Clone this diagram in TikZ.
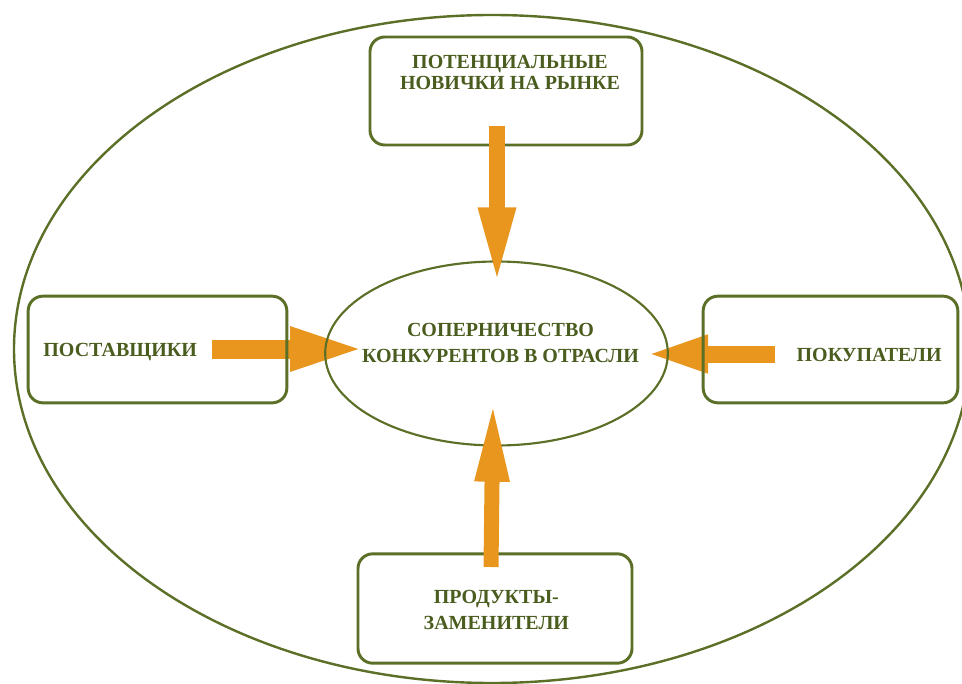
\documentclass[tikz,border=0pt]{standalone}
\usepackage{fontspec}
\setmainfont{Liberation Serif}
\usetikzlibrary{arrows.meta}
\usetikzlibrary{shapes.geometric}
\definecolor{lineolive}{HTML}{5B6F27}
\definecolor{textolive}{HTML}{4A5C1E}
\definecolor{forceorange}{HTML}{E8961E}
\tikzset{x=0.75pt, y=-0.75pt, % pixel grid of the picture
  every node/.style={align=center},
  forcebox/.style={   % boxes of the five forces
    draw=lineolive, line width=2.2pt, rounded corners=11pt},
  forcetext/.style={
    text=textolive, inner sep=0pt,
    font=\bfseries\fontsize{15}{18}\selectfont},
  forcearrow/.style={ % thick orange arrows
    draw=forceorange, line cap=butt}}

\begin{document}
\begin{tikzpicture}
  \useasboundingbox (0,0) rectangle (962,684);

  \node [ellipse, draw=lineolive, line width=1.8pt, minimum width=717pt, minimum height=501pt] (qmarket) at (492,349) {};

  % side arrows lie under the boxes
  \coordinate (qsuppA) at (212,349);
  \coordinate (qsuppB) at (368,349);
  \coordinate (qbuyA) at (775,354);
  \coordinate (qbuyB) at (644,354);
  \draw [forcearrow, line width=14.25pt, -{Triangle[length=58.5pt, width=29pt]}] (qsuppA) -- (qsuppB);
  \draw [forcearrow, line width=12.75pt, -{Triangle[length=48pt, width=25pt]}] (qbuyA) -- (qbuyB);

  \node [ellipse, draw=lineolive, line width=1.6pt, minimum width=257pt, minimum height=138pt] (qrival) at (496.5,353.5) {};
  \node [forcetext, font=\bfseries\fontsize{15}{19}\selectfont] (qrivalT) at ([xshift=3pt, yshift=8pt]qrival.center) {СОПЕРНИЧЕСТВО\\КОНКУРЕНТОВ В ОТРАСЛИ};

  \node [forcebox, minimum width=204pt, minimum height=81pt] (qnew) at (506,91) {};
  \node [forcetext, font=\bfseries\fontsize{15}{16}\selectfont] (qnewT) at ([xshift=3pt, yshift=14pt]qnew.center) {ПОТЕНЦИАЛЬНЫЕ\\НОВИЧКИ НА РЫНКЕ};

  \node [forcebox, minimum width=194pt, minimum height=80pt] (qsupp) at (157.5,349.5) {};
  \node [forcetext] (qsuppT) at ([xshift=-28pt, yshift=-2pt]qsupp.center) {ПОСТАВЩИКИ};

  \node [forcebox, minimum width=191pt, minimum height=80pt] (qbuy) at (830.5,349.5) {};
  \node [forcetext] (qbuyT) at ([xshift=29pt, yshift=-4pt]qbuy.center) {ПОКУПАТЕЛИ};

  \node [forcebox, minimum width=205.5pt, minimum height=82pt] (qsubst) at (495,608.5) {};
  \node [forcetext, font=\bfseries\fontsize{15}{19}\selectfont] (qsubstT) at ([xshift=1pt, yshift=-1pt]qsubst.center) {ПРОДУКТЫ-\\ЗАМЕНИТЕЛИ};

  % vertical arrows lie over the boxes
  \coordinate (qnewA) at (497,126);
  \coordinate (qnewB) at (497,286);
  \coordinate (qsubstA) at (491,567);
  \coordinate (qsubstB) at (493,399);
  \draw [forcearrow, line width=12pt, -{Triangle[length=59pt, width=25pt]}] (qnewA) -- (qnewB);
  \draw [forcearrow, line width=11.25pt, -{Triangle[length=62pt, width=23pt]}] (qsubstA) -- (qsubstB);
\end{tikzpicture}
\end{document}
